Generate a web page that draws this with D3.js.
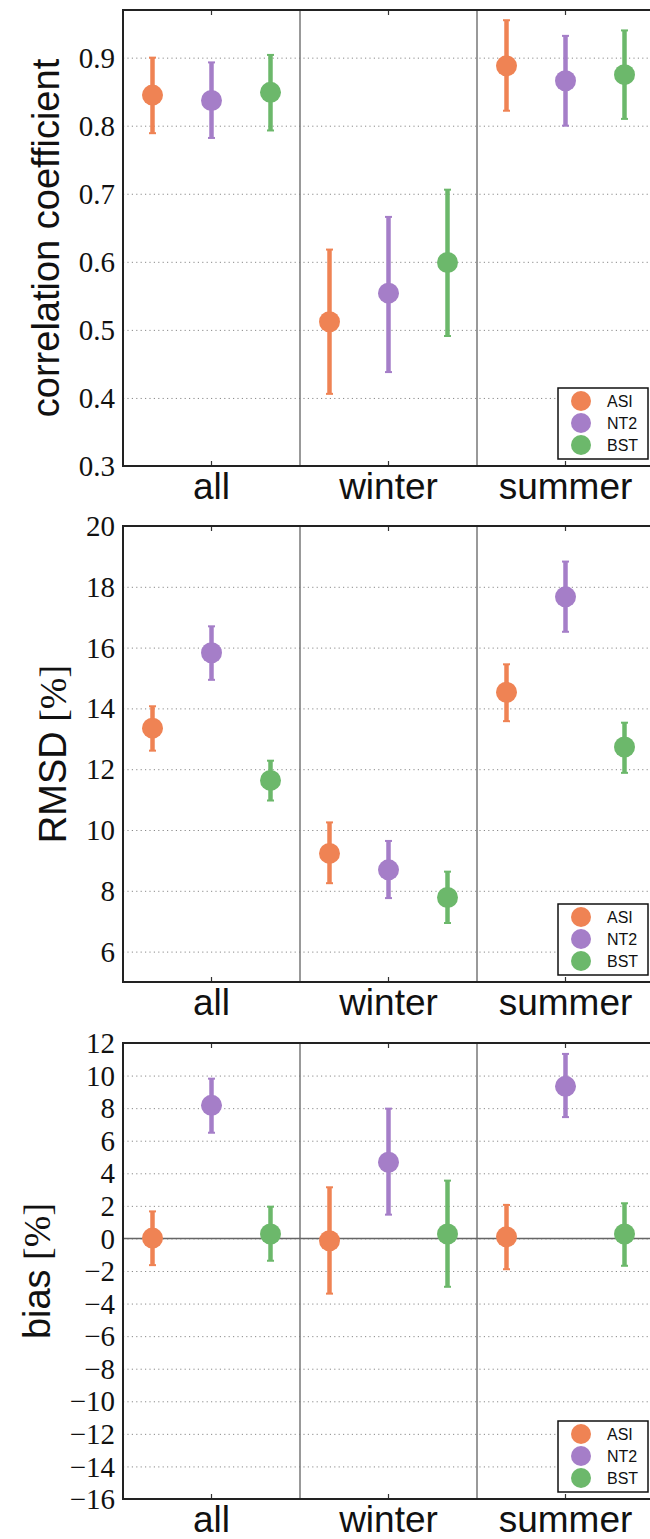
<!DOCTYPE html>
<html>
<head>
<meta charset="utf-8">
<script src="https://cdn.jsdelivr.net/npm/d3@7"></script>
<style>
  body { margin: 0; background: #fff; }
  svg { display: block; }
  .sans { font-family: "Liberation Sans", Arial, Helvetica, sans-serif; }
</style>
</head>
<body>
<svg id="chart" width="650" height="1539"></svg>
<script>
var categories = ['all', 'winter', 'summer'];
var seriesNames = ['ASI', 'NT2', 'BST'];
var seriesColors = ['#ef8354', '#a57ec8', '#6cb86b'];

// correlation coefficient
var corrMean = [[0.845, 0.512, 0.888], [0.837, 0.554, 0.866], [0.849, 0.599, 0.875]];
var corrLo   = [[0.789, 0.406, 0.822], [0.782, 0.438, 0.800], [0.793, 0.491, 0.810]];
var corrHi   = [[0.900, 0.618, 0.955], [0.893, 0.666, 0.932], [0.904, 0.706, 0.940]];
var corrTicks = [0.3, 0.4, 0.5, 0.6, 0.7, 0.8, 0.9];

// RMSD [%]
var rmsdMean = [[13.35, 9.23, 14.53], [15.83, 8.69, 17.67], [11.63, 7.78, 12.73]];
var rmsdLo   = [[12.61, 8.25, 13.58], [14.94, 7.76, 16.52], [10.97, 6.94, 11.88]];
var rmsdHi   = [[14.07, 10.25, 15.45], [16.70, 9.64, 18.83], [12.28, 8.63, 13.53]];
var rmsdTicks = [6, 8, 10, 12, 14, 16, 18, 20];

// bias [%]
var biasMean = [[0.02, -0.14, 0.10], [8.17, 4.68, 9.34], [0.27, 0.27, 0.27]];
var biasLo   = [[-1.64, -3.39, -1.89], [6.49, 1.46, 7.45], [-1.37, -2.97, -1.68]];
var biasHi   = [[1.66, 3.14, 2.06], [9.81, 7.97, 11.33], [1.95, 3.55, 2.16]];
var biasTicks = [-16, -14, -12, -10, -8, -6, -4, -2, 0, 2, 4, 6, 8, 10, 12];

var svg = d3.select('#chart');

// check that the serif face really resolves, else use DejaVu Serif
function pickSerif(){
    let t = svg.append('text').style('font-size', '40px').text('0.9 -16 [%] abc');
    t.style('font-family', '"Liberation Serif", "Liberation Sans"');
    let w1 = t.node().getComputedTextLength();
    t.style('font-family', '"Liberation Sans"');
    let w2 = t.node().getComputedTextLength();
    t.remove();
    if (Math.abs(w1 - w2) > 0.5) return ['"Liberation Serif", serif', 29];
    return ['"DejaVu Serif", serif', 25];
}
var serif = pickSerif();

var left = 123, right = 654, panelH = 456;
var x = d3.scaleLinear().domain([-0.5, 2.5]).range([left, right]);

function drawPanel(top, domain, ticks, fmt, mean, lo, hi, label, unit, zeroLine){
    let bottom = top + panelH;
    let y = d3.scaleLinear().domain(domain).range([bottom, top]);
    let g = svg.append('g');

    // dotted grid
    g.append('g')
        .attr('transform', `translate(${left},0)`)
        .call(d3.axisLeft(y).tickValues(ticks).tickSize(-(right-left)).tickFormat(''))
        .call(a => a.select('.domain').remove())
        .selectAll('line')
        .attr('stroke', '#8a8a8a')
        .attr('stroke-width', 1)
        .attr('stroke-dasharray', '1.2,3.2');

    // tick labels
    let yAx = g.append('g')
        .attr('transform', `translate(${left},0)`)
        .call(d3.axisLeft(y).tickValues(ticks).tickSize(0).tickPadding(8).tickFormat(fmt));
    yAx.select('.domain').remove();
    yAx.attr('font-family', null).attr('font-size', null);
    yAx.selectAll('.tick text')
        .attr('fill', '#111')
        .style('font-family', serif[0])
        .style('font-size', serif[1] + 'px')
        .attr('dy', '0.33em');

    // category separators
    g.selectAll('line.sep')
        .data([0.5, 1.5])
        .enter()
        .append('line')
        .attr('class', 'sep')
        .attr('x1', d => x(d)).attr('x2', d => x(d))
        .attr('y1', top).attr('y2', bottom)
        .attr('stroke', '#777')
        .attr('stroke-width', 1.5);

    if (zeroLine){
        g.append('line')
            .attr('x1', left).attr('x2', right)
            .attr('y1', y(0)).attr('y2', y(0))
            .attr('stroke', '#666')
            .attr('stroke-width', 1.5);
    }

    // x ticks inside, top and bottom
    let xt = d3.range(categories.length);
    [[bottom, -5], [top, 5]].forEach(p => {
        g.selectAll(null)
            .data(xt)
            .enter()
            .append('line')
            .attr('x1', d => x(d)).attr('x2', d => x(d))
            .attr('y1', p[0]).attr('y2', p[0] + p[1])
            .attr('stroke', '#333')
            .attr('stroke-width', 1.2);
    });

    g.selectAll('text.cat')
        .data(categories)
        .enter()
        .append('text')
        .attr('class', 'cat sans')
        .attr('x', (d, i) => x(i))
        .attr('y', bottom + 33)
        .attr('text-anchor', 'middle')
        .style('font-size', '37px')
        .attr('fill', '#111')
        .text(d => d);

    // error bars and points
    seriesNames.forEach((s, si) => {
        let off = (si - 1) / 3;
        let color = seriesColors[si];
        let pts = categories.map((c, ci) => ({x: ci + off, m: mean[si][ci], lo: lo[si][ci], hi: hi[si][ci]}));
        let sg = g.append('g');
        sg.selectAll('line.err')
            .data(pts)
            .enter()
            .append('line')
            .attr('x1', d => x(d.x)).attr('x2', d => x(d.x))
            .attr('y1', d => y(d.lo)).attr('y2', d => y(d.hi))
            .attr('stroke', color)
            .attr('stroke-width', 4.5);
        ['lo', 'hi'].forEach(k => {
            sg.selectAll(null)
                .data(pts)
                .enter()
                .append('line')
                .attr('x1', d => x(d.x) - 3.5).attr('x2', d => x(d.x) + 3.5)
                .attr('y1', d => y(d[k])).attr('y2', d => y(d[k]))
                .attr('stroke', color)
                .attr('stroke-width', 2);
        });
        sg.selectAll('circle')
            .data(pts)
            .enter()
            .append('circle')
            .attr('cx', d => x(d.x))
            .attr('cy', d => y(d.m))
            .attr('r', 10.5)
            .attr('fill', color);
    });

    // spines
    g.append('rect')
        .attr('x', left).attr('y', top)
        .attr('width', right - left).attr('height', panelH)
        .attr('fill', 'none')
        .attr('stroke', '#222')
        .attr('stroke-width', 2);

    // legend, lower right
    let lw = 90, lh = 71;
    let lx = right - 6 - lw, ly = bottom - 7 - lh;
    let lg = g.append('g').attr('transform', `translate(${lx},${ly})`);
    lg.append('rect')
        .attr('width', lw).attr('height', lh)
        .attr('fill', '#fff')
        .attr('stroke', '#111')
        .attr('stroke-width', 1.5);
    lg.selectAll('circle')
        .data(seriesNames)
        .enter()
        .append('circle')
        .attr('cx', 23)
        .attr('cy', (d, i) => 13 + i * 22)
        .attr('r', 10)
        .attr('fill', (d, i) => seriesColors[i]);
    lg.selectAll('text')
        .data(seriesNames)
        .enter()
        .append('text')
        .attr('class', 'sans')
        .attr('x', 49)
        .attr('y', (d, i) => 13 + i * 22)
        .attr('dy', '0.36em')
        .style('font-size', '16px')
        .attr('fill', '#111')
        .text(d => d);

    // y label placed left of the tick labels
    let minX = d3.min(yAx.selectAll('.tick text').nodes(), n => left + n.getBBox().x);
    let cy = (top + bottom) / 2;
    let lab = g.append('text')
        .attr('class', 'sans')
        .attr('transform', `translate(${minX - 20},${cy}) rotate(-90)`)
        .attr('text-anchor', 'middle')
        .style('font-size', '38px')
        .attr('fill', '#111');
    lab.append('tspan').text(label);
    if (unit){
        lab.append('tspan')
            .style('font-family', serif[0])
            .text(' ' + unit);
    }
}

drawPanel(10, [0.3, 0.97], corrTicks, d3.format('.1f'), corrMean, corrLo, corrHi, 'correlation coefficient', null, false);
drawPanel(526, [5, 20], rmsdTicks, d3.format('d'), rmsdMean, rmsdLo, rmsdHi, 'RMSD', '[%]', false);
drawPanel(1043, [-16, 12], biasTicks, d3.format('d'), biasMean, biasLo, biasHi, 'bias', '[%]', true);
</script>
</body>
</html>
